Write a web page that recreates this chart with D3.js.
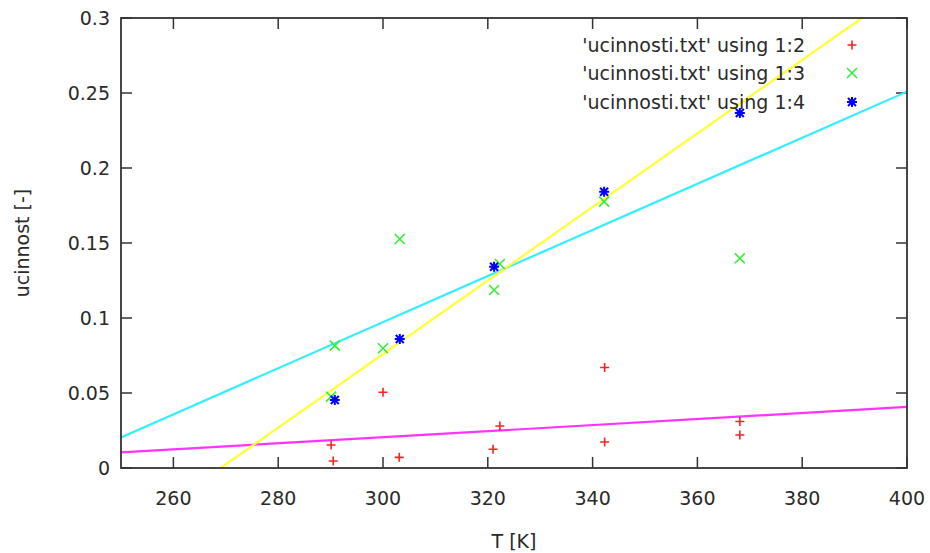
<!DOCTYPE html>
<html>
<head>
<meta charset="utf-8">
<script src="https://cdn.jsdelivr.net/npm/d3@7"></script>
<style>
  body { margin: 0; background: #fff; }
  text { font-family: "DejaVu Sans", sans-serif; fill: #2a2a2a; }
</style>
</head>
<body>
<div id="chart"></div>
<script>
const W = 930, H = 553;
const margin = {top: 18, right: 23, bottom: 85, left: 121};

// data
const xTicks = [260, 280, 300, 320, 340, 360, 380, 400];
const yTicks = [0, 0.05, 0.1, 0.15, 0.2, 0.25, 0.3];
const yTickLabels = ["0", "0.05", "0.1", "0.15", "0.2", "0.25", "0.3"];

const col2 = [[290.5, 0.0047], [290.1, 0.0153], [300, 0.0505], [303.1, 0.0071],
              [321, 0.0125], [322.3, 0.028], [342.3, 0.067], [342.3, 0.0173],
              [368.1, 0.031], [368.1, 0.022]];
const col3 = [[290.1, 0.0476], [290.8, 0.0816], [300, 0.0798], [303.2, 0.1527],
              [321.2, 0.1187], [322.3, 0.136], [342.2, 0.1776], [368.1, 0.1398]];
const col4 = [[290.8, 0.0453], [303.2, 0.086], [321.2, 0.1342], [342.2, 0.1842],
              [368.1, 0.2367]];

// fitted lines, endpoints
const fitMagenta = [[250, 0.0104], [400, 0.0407]];
const fitCyan = [[250, 0.0204], [400, 0.2509]];
const fitYellow = [[269, 0], [391.4, 0.3]];

const legendNames = ["'ucinnosti.txt' using 1:2", "'ucinnosti.txt' using 1:3", "'ucinnosti.txt' using 1:4"];

const fs = 19;

const svg = d3.select("#chart").append("svg")
    .attr("width", W).attr("height", H);

const x = d3.scaleLinear().domain([250, 400]).range([margin.left, W - margin.right]);
const y = d3.scaleLinear().domain([0, 0.3]).range([H - margin.bottom, margin.top]);

svg.append("clipPath").attr("id", "clip")
  .append("rect")
    .attr("x", margin.left).attr("y", margin.top)
    .attr("width", W - margin.right - margin.left)
    .attr("height", H - margin.bottom - margin.top);

const tickLen = 11;
const axisCol = "#333";

// ticks (inward, mirrored)
const ticksG = svg.append("g").attr("stroke", axisCol).attr("stroke-width", 1.5);
xTicks.forEach(t => {
    ticksG.append("line").attr("x1", x(t)).attr("x2", x(t))
        .attr("y1", y(0)).attr("y2", y(0) - tickLen);
    ticksG.append("line").attr("x1", x(t)).attr("x2", x(t))
        .attr("y1", y(0.3)).attr("y2", y(0.3) + tickLen);
});
yTicks.forEach(t => {
    ticksG.append("line").attr("x1", x(250)).attr("x2", x(250) + tickLen)
        .attr("y1", y(t)).attr("y2", y(t));
    ticksG.append("line").attr("x1", x(400)).attr("x2", x(400) - tickLen)
        .attr("y1", y(t)).attr("y2", y(t));
});

// tick labels
svg.append("g").selectAll("text").data(xTicks).join("text")
    .attr("x", d => x(d)).attr("y", y(0) + 37)
    .attr("text-anchor", "middle").attr("font-size", fs)
    .text(d => d);
svg.append("g").selectAll("text").data(yTicks).join("text")
    .attr("x", x(250) - 11).attr("y", d => y(d) + 7)
    .attr("text-anchor", "end").attr("font-size", fs)
    .text((d, i) => yTickLabels[i]);

// axis titles
svg.append("text")
    .attr("x", (x(250) + x(400)) / 2).attr("y", 548)
    .attr("text-anchor", "middle").attr("font-size", fs)
    .text("T [K]");
svg.append("text")
    .attr("transform", `translate(29,${(y(0) + y(0.3)) / 2}) rotate(-90)`)
    .attr("text-anchor", "middle").attr("font-size", fs)
    .text("ucinnost [-]");

// fit lines
const plot = svg.append("g").attr("clip-path", "url(#clip)");
const line = d3.line().x(d => x(d[0])).y(d => y(d[1]));
[[fitMagenta, "#ff33ff"], [fitCyan, "#33eeff"], [fitYellow, "#ffff33"]].forEach(([pts, c]) => {
    plot.append("path").datum(pts)
        .attr("d", line).attr("fill", "none")
        .attr("stroke", c).attr("stroke-width", 2.2);
});

// markers
function plus(r) { return `M${-r},0H${r}M0,${-r}V${r}`; }
function cross(r) { return `M${-r},${-r}L${r},${r}M${-r},${r}L${r},${-r}`; }
function star(r) { return plus(r) + cross(r * 0.8); }

const series = [
    {data: col2, color: "#ff2020", path: plus(4.5), sw: 1.6},
    {data: col3, color: "#33ee33", path: cross(5), sw: 1.6},
    {data: col4, color: "#0000ff", path: star(5), sw: 2}
];

series.forEach(s => {
    plot.append("g").selectAll("path").data(s.data).join("path")
        .attr("transform", d => `translate(${x(d[0])},${y(d[1])})`)
        .attr("d", s.path).attr("fill", "none")
        .attr("stroke", s.color).attr("stroke-width", s.sw);
});

// legend
const legY = [45, 73, 102];
const leg = svg.append("g");
series.forEach((s, i) => {
    leg.append("text")
        .attr("x", 805).attr("y", legY[i] + 7)
        .attr("text-anchor", "end").attr("font-size", fs)
        .text(legendNames[i]);
    leg.append("path")
        .attr("transform", `translate(852,${legY[i]})`)
        .attr("d", s.path).attr("fill", "none")
        .attr("stroke", s.color).attr("stroke-width", s.sw);
});

// border
svg.append("rect")
    .attr("x", x(250)).attr("y", y(0.3))
    .attr("width", x(400) - x(250)).attr("height", y(0) - y(0.3))
    .attr("fill", "none").attr("stroke", axisCol).attr("stroke-width", 1.8);
</script>
</body>
</html>
